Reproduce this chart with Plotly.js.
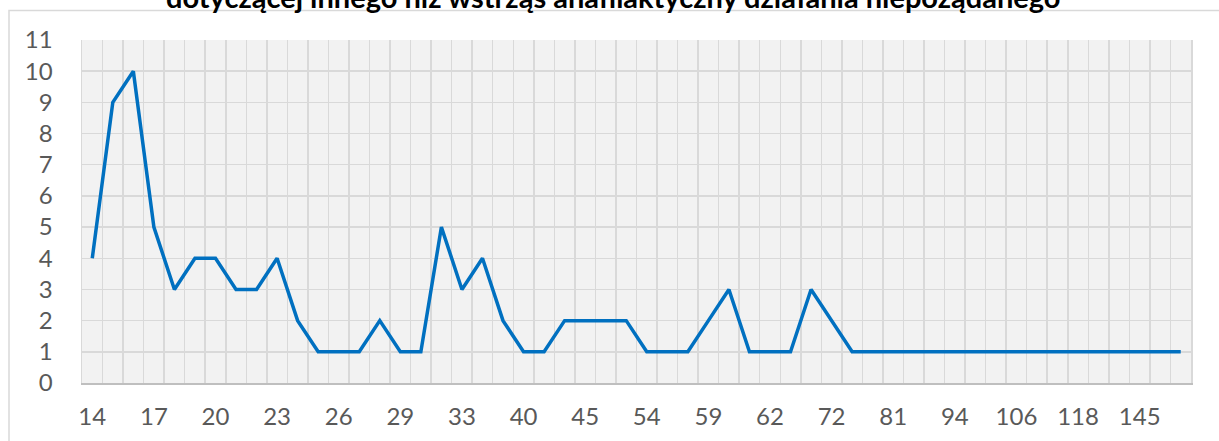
<!DOCTYPE html>
<html>
<head>
<meta charset="utf-8">
<script src="https://cdn.plot.ly/plotly-3.0.1.min.js"></script>
<style>html,body{margin:0;padding:0;background:#fff;}#chart{width:1219px;height:441px;}</style>
</head>
<body>
<div id="chart"></div>
<script>
const titleText = "dotyczącej innego niż wstrząs anafilaktyczny działania niepożądanego";
const categories = ["14","15","16","17","18","19","20","21","22","23","24","25","26","27","28","29","30","31","33","35","37","40","42","43","45","48","50","54","55","57","59","60","61","62","65","70","72","75","78","81","85","90","94","98","102","106","110","115","118","125","135","145","160","180"];
const values = [4,9,10,5,3,4,4,3,3,4,2,1,1,1,2,1,1,5,3,4,2,1,1,2,2,2,2,1,1,1,2,3,1,1,1,3,2,1,1,1,1,1,1,1,1,1,1,1,1,1,1,1,1,1];
const labeledTicks = ["14","17","20","23","26","29","33","40","45","54","59","62","72","81","94","106","118","145"];
const yTicks = [0,1,2,3,4,5,6,7,8,9,10,11];

const tickText = categories.map(c => labeledTicks.includes(c) ? c : "");

const trace = {
  x: categories,
  y: values,
  type: "scatter",
  mode: "lines",
  line: {color: "#0070c0", width: 3.5},
  hoverinfo: "x+y"
};

const layout = {
  width: 1219,
  height: 441,
  margin: {l: 82, r: 28, t: 40, b: 58, pad: 0},
  paper_bgcolor: "#ffffff",
  plot_bgcolor: "#f2f2f2",
  showlegend: false,
  xaxis: {
    type: "category",
    categoryorder: "array",
    categoryarray: categories,
    range: [-0.5, categories.length - 0.5],
    tickmode: "array",
    tickvals: categories,
    ticktext: tickText,
    tickson: "boundaries",
    tickangle: 0,
    ticks: "",
    showgrid: true,
    gridcolor: "#d9d9d9",
    gridwidth: 1.5,
    showline: true,
    linecolor: "#bfbfbf",
    linewidth: 1.5,
    zeroline: false,
    tickfont: {family: "Lato, 'Open Sans', sans-serif", size: 24, color: "#595959"},
    ticklabelstandoff: 12,
    fixedrange: true
  },
  yaxis: {
    range: [0, 11],
    tickmode: "array",
    tickvals: yTicks,
    ticktext: yTicks.map(String),
    ticks: "",
    showgrid: true,
    gridcolor: "#d9d9d9",
    gridwidth: 1.5,
    showline: true,
    mirror: true,
    linecolor: "#d9d9d9",
    linewidth: 1.5,
    zeroline: false,
    tickfont: {family: "Lato, 'Open Sans', sans-serif", size: 24, color: "#595959"},
    ticklabelstandoff: 23,
    fixedrange: true
  },
  annotations: [{
    text: "<b>" + titleText + "</b>",
    xref: "paper", yref: "paper",
    x: (613 - 82) / 1109, xanchor: "center",
    y: (383 - 16) / 343, yanchor: "bottom",
    showarrow: false,
    font: {family: "Lato, 'Open Sans', sans-serif", size: 29, color: "#000000"}
  }],
  shapes: [{
    type: "rect",
    xref: "paper", yref: "paper",
    x0: (9 - 82) / 1109, x1: 1.2,
    y0: -0.5, y1: (383 - 10.5) / 343,
    line: {color: "#d9d9d9", width: 1.5},
    fillcolor: "rgba(0,0,0,0)",
    layer: "below"
  }]
};

Plotly.newPlot("chart", [trace], layout, {displayModeBar: false, staticPlot: true});
</script>
</body>
</html>
